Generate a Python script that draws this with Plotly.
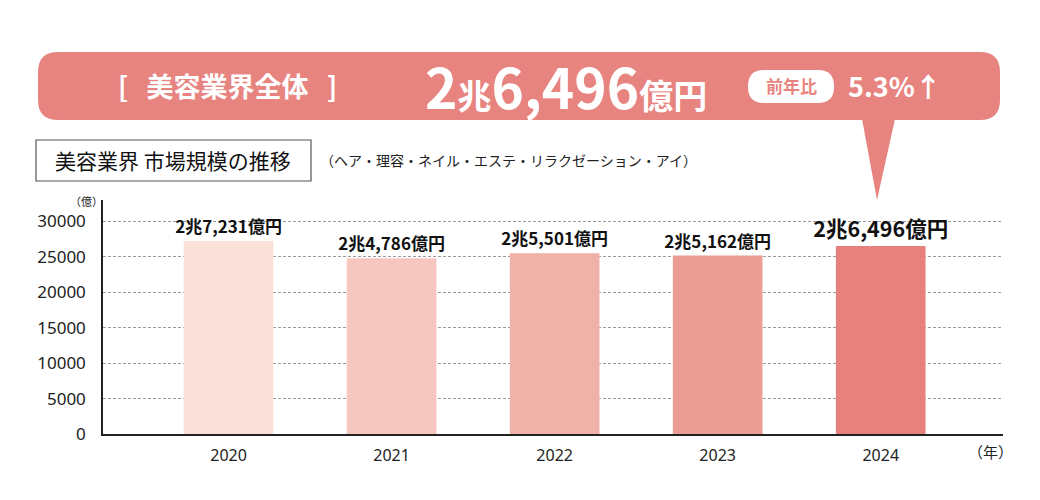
import plotly.graph_objects as go

years = ["2020", "2021", "2022", "2023", "2024"]
values = [27231, 24786, 25501, 25162, 26496]
labels = ["2兆7,231億円", "2兆4,786億円", "2兆5,501億円", "2兆5,162億円", "2兆6,496億円"]
label_sizes = [17, 17, 17, 17, 21.5]
bar_colors = ["#FBE0DA", "#F6C7BE", "#F0B1A8", "#EB9C95", "#E6817E"]
y_ticks = [0, 5000, 10000, 15000, 20000, 25000, 30000]

JP = "Noto Sans CJK JP"
BANNER = "#E8847F"

fig = go.Figure()
fig.add_trace(go.Bar(
    x=years, y=values, width=0.55,
    marker=dict(color=bar_colors, line=dict(width=0)),
    text=["<b>%s</b>" % t for t in labels],
    textposition="outside",
    constraintext="none",
    textfont=dict(family=JP, size=label_sizes, color="#111"),
    cliponaxis=False,
    hoverinfo="skip",
))

W, H = 1040, 500
L, R, T, B = 103, 37, 200, 66
pw, ph = W - L - R, H - T - B

fig.update_layout(
    width=W, height=H,
    margin=dict(l=L, r=R, t=T, b=B),
    paper_bgcolor="white", plot_bgcolor="white",
    showlegend=False,
    xaxis=dict(
        type="category", range=[-0.77, 4.75],
        showline=True, linecolor="#222", linewidth=1.5,
        showgrid=False, ticks="", ticklabelstandoff=6,
        tickfont=dict(family="Noto Sans", size=16, color="#222"),
    ),
    yaxis=dict(
        range=[0, 33000], tickvals=y_ticks,
        ticktext=[str(v) for v in y_ticks],
        showline=True, linecolor="#222", linewidth=1.5,
        showgrid=True, gridcolor="#9a9a9a", gridwidth=1, griddash="3px,2px",
        zeroline=False, ticks="", ticklabelstandoff=12,
        tickfont=dict(family="Noto Sans", size=17, color="#222"),
    ),
)


def fx(x):
    return (x - L) / pw


def fy(y):
    return (H - B - y) / ph


def rrect(x0, y0, x1, y1, r):
    return (f"M {fx(x0+r)},{fy(y0)} L {fx(x1-r)},{fy(y0)} Q {fx(x1)},{fy(y0)} {fx(x1)},{fy(y0+r)} "
            f"L {fx(x1)},{fy(y1-r)} Q {fx(x1)},{fy(y1)} {fx(x1-r)},{fy(y1)} L {fx(x0+r)},{fy(y1)} "
            f"Q {fx(x0)},{fy(y1)} {fx(x0)},{fy(y1-r)} L {fx(x0)},{fy(y0+r)} Q {fx(x0)},{fy(y0)} {fx(x0+r)},{fy(y0)} Z")


fig.add_shape(type="path", xref="paper", yref="paper", path=rrect(38, 52, 1000, 120, 20),
              fillcolor=BANNER, line=dict(width=0), layer="above")
fig.add_shape(type="path", xref="paper", yref="paper",
              path=f"M {fx(862)},{fy(119)} L {fx(895)},{fy(119)} L {fx(877)},{fy(200)} Z",
              fillcolor=BANNER, line=dict(width=0), layer="above")
fig.add_shape(type="path", xref="paper", yref="paper", path=rrect(748, 70, 834, 103, 16),
              fillcolor="white", line=dict(width=0), layer="above")
fig.add_shape(type="rect", xref="paper", yref="paper",
              x0=fx(36), x1=fx(311), y0=fy(140), y1=fy(181),
              fillcolor="white", line=dict(color="#555", width=1.2), layer="above")


def ann(x, y, text, size, color, family=JP, xanchor="center"):
    fig.add_annotation(x=fx(x), y=fy(y), xref="paper", yref="paper", text=text,
                       showarrow=False, xanchor=xanchor, yanchor="middle",
                       font=dict(family=family, size=size, color=color))


ann(227, 86, "<b>[   美容業界全体   ]</b>", 27, "white")
ann(566, 85, "<b>2<span style='font-size:34px'>兆</span>6,496<span style='font-size:34px'>億円</span></b>", 55, "white")
ann(791, 86, "<b>前年比</b>", 17, BANNER)
ann(895, 86, "<b>5.3%↑</b>", 27, "white")
ann(173, 160, "美容業界 市場規模の推移", 21, "#111")
ann(318, 160, "（ヘア・理容・ネイル・エステ・リラクゼーション・アイ）", 14, "#222", xanchor="left")
ann(86, 201, "（億）", 11, "#222")
ann(990, 451, "（年）", 15, "#222")

fig.write_html("out.html")
